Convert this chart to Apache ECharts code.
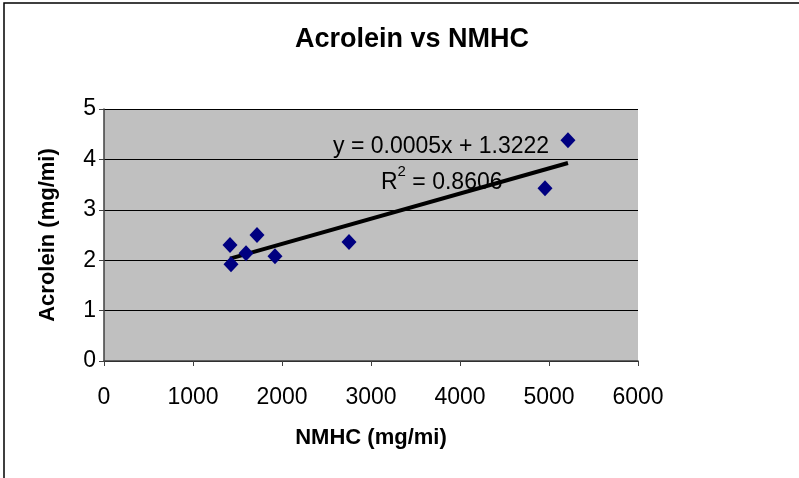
<!DOCTYPE html>
<html><head><meta charset="utf-8">
<script src="https://cdn.jsdelivr.net/npm/echarts@6/dist/echarts.min.js"></script>
<style>html,body{margin:0;padding:0;background:#fff}#c{width:799px;height:478px}</style>
</head><body><div id="c"></div>
<script>
const nmhc = [1416, 1427, 1596, 1719, 1921, 2753, 4955, 5213];
const acrolein = [2.30, 1.92, 2.14, 2.50, 2.08, 2.36, 3.43, 4.38];
const slope = 0.0005, intercept = 1.3222;
const xTicks = [0, 1000, 2000, 3000, 4000, 5000, 6000];
const yTicks = [0, 1, 2, 3, 4, 5];
const xMin = Math.min(...nmhc), xMax = Math.max(...nmhc);
const trend = [[xMin, slope * xMin + intercept], [xMax, slope * xMax + intercept]];
const font = '"Liberation Sans", Arial, sans-serif';
const chart = echarts.init(document.getElementById('c'));
chart.setOption({
  animation: false,
  backgroundColor: '#fff',
  title: { text: 'Acrolein vs NMHC', left: 407, top: 21, textAlign: 'center',
    textStyle: { fontFamily: font, fontSize: 27, fontWeight: 'bold', color: '#000' } },
  grid: { left: 104, right: 161, top: 109, bottom: 117, show: true, backgroundColor: '#C0C0C0', borderWidth: 0 },
  xAxis: { type: 'value', min: xTicks[0], max: xTicks[xTicks.length-1], interval: 1000,
    name: 'NMHC (mg/mi)', nameLocation: 'middle', nameGap: 66,
    nameTextStyle: { fontFamily: font, fontSize: 22, fontWeight: 'bold', color: '#000' },
    axisLine: { lineStyle: { color: '#404040', width: 1.5 } },
    axisTick: { show: true, length: 5, lineStyle: { color: '#404040' } },
    axisLabel: { fontFamily: font, fontSize: 23, color: '#000', margin: 25, formatter: v => String(v) },
    splitLine: { show: false } },
  yAxis: { type: 'value', min: yTicks[0], max: yTicks[yTicks.length-1], interval: 1,
    name: 'Acrolein (mg/mi)', nameLocation: 'middle', nameGap: 45,
    nameTextStyle: { fontFamily: font, fontSize: 22, fontWeight: 'bold', color: '#000' },
    axisLine: { show: true, lineStyle: { color: '#404040', width: 1.5 } },
    axisTick: { show: true, length: 5, lineStyle: { color: '#404040' } },
    axisLabel: { fontFamily: font, fontSize: 23, color: '#000', margin: 8 },
    splitLine: { show: true, lineStyle: { color: '#000', width: 1 } } },
  series: [
    { type: 'line', data: trend, symbol: 'none', lineStyle: { color: '#000', width: 4 }, z: 3 },
    { type: 'scatter', data: nmhc.map((x, i) => [x, acrolein[i]]), symbol: 'diamond', symbolSize: [15, 16],
      itemStyle: { color: '#000080', opacity: 1 }, z: 4 }
  ],
  graphic: [
    { type: 'rect', shape: { x: 4, y: 3, width: 900, height: 600 }, style: { fill: 'none', stroke: '#000', lineWidth: 1.5 }, silent: true },
    { type: 'text', x: 333, y: 135, z: 10, style: { text: 'y = 0.0005x + 1.3222', fontFamily: font, fontSize: 23, fill: '#000' } },
    { type: 'text', x: 381, y: 164, z: 10, style: { text: '{a|R}{s|2}{a| = 0.8606}', fontFamily: font,
      rich: { a: { fontFamily: font, fontSize: 23, fill: '#000', verticalAlign: 'bottom', lineHeight: 30 },
              s: { fontFamily: font, fontSize: 15, fill: '#000', verticalAlign: 'top', lineHeight: 30, padding: [0, 0, 12, 0] } } } }
  ]
});
</script></body></html>
